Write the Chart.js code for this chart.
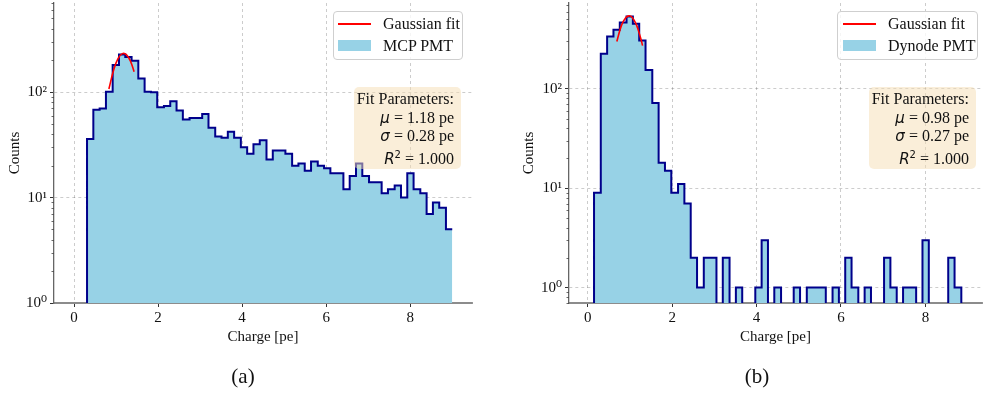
<!DOCTYPE html>
<html>
<head>
<meta charset="UTF-8">
<title>MCP PMT vs Dynode PMT charge spectra</title>
<script src="https://cdn.jsdelivr.net/npm/chart.js"></script>
<style>
  body { margin: 0; background: #fff; }
  #page { position: relative; width: 983px; height: 396px; overflow: hidden; font-family: 'Liberation Serif', 'DejaVu Serif', serif; color: #111; }
  canvas { position: absolute; top: 0; }
  .abs { position: absolute; }
  .legend { position: absolute; background: rgba(255,255,255,0.8); border: 1px solid #cfcfcf; border-radius: 4px; box-sizing: border-box; }
  .ltext { position: absolute; font-size: 16px; line-height: 18px; white-space: nowrap; }
  .fitbox { position: absolute; background: rgba(245,222,179,0.5); border-radius: 5px; box-sizing: border-box;
            text-align: right; font-size: 16px; line-height: 18.7px; padding: 3px 7px 0 0; white-space: nowrap; }
  .m { font-family: 'DejaVu Sans', sans-serif; font-style: italic; font-size: 15px; }
  .cap { position: absolute; font-size: 21px; width: 60px; text-align: center; }
</style>
</head>
<body>
<div id="page">
  <canvas id="chartA" width="491" height="396" style="left:0px;width:491px;height:396px"></canvas>
  <canvas id="chartB" width="492" height="396" style="left:491px;width:492px;height:396px"></canvas>

  <div class="legend" style="left:333px;top:11px;width:130px;height:49px"></div>
  <div class="abs" style="left:338px;top:23px;width:33px;height:2px;background:#f00"></div>
  <div class="ltext" style="left:383px;top:15px">Gaussian fit</div>
  <div class="abs" style="left:338px;top:40px;width:33px;height:11px;background:#97d2e6"></div>
  <div class="ltext" style="left:383px;top:37px">MCP PMT</div>

  <div class="fitbox" style="left:354px;top:87px;width:107px;height:82px">
    Fit Parameters:<br><span class="m">μ</span> = 1.18 pe<br><span class="m">σ</span> = 0.28 pe<br><span class="m">R</span><sup class="m" style="font-size:10px;font-style:normal">2</sup> = 1.000
  </div>

  <div class="legend" style="left:837px;top:11px;width:141px;height:49px"></div>
  <div class="abs" style="left:843px;top:23px;width:33px;height:2px;background:#f00"></div>
  <div class="ltext" style="left:888px;top:15px">Gaussian fit</div>
  <div class="abs" style="left:843px;top:40px;width:33px;height:11px;background:#97d2e6"></div>
  <div class="ltext" style="left:888px;top:37px">Dynode PMT</div>

  <div class="fitbox" style="left:869px;top:87px;width:107px;height:82px">
    Fit Parameters:<br><span class="m">μ</span> = 0.98 pe<br><span class="m">σ</span> = 0.27 pe<br><span class="m">R</span><sup class="m" style="font-size:10px;font-style:normal">2</sup> = 1.000
  </div>

  <div class="cap" style="left:213px;top:364px">(a)</div>
  <div class="cap" style="left:727px;top:364px">(b)</div>
</div>
<script>
// bin edges (pe), 59 bins from 0 to 9
const chargeBins = [0.00, 0.15, 0.31, 0.46, 0.61, 0.76, 0.92, 1.07, 1.22, 1.37,
  1.53, 1.68, 1.83, 1.98, 2.14, 2.29, 2.44, 2.59, 2.75, 2.90,
  3.05, 3.20, 3.36, 3.51, 3.66, 3.81, 3.97, 4.12, 4.27, 4.42,
  4.58, 4.73, 4.88, 5.03, 5.19, 5.34, 5.49, 5.64, 5.80, 5.95,
  6.10, 6.25, 6.41, 6.56, 6.71, 6.86, 7.02, 7.17, 7.32, 7.47,
  7.63, 7.78, 7.93, 8.08, 8.24, 8.39, 8.54, 8.69, 8.85, 9.00];

const mcpCounts = [0, 0, 36, 68, 70, 101, 181, 228, 216, 199,
  135, 101, 100, 72, 74, 82, 67, 55, 57, 57,
  62, 46, 38, 37, 42, 37, 30, 26, 32, 35,
  23, 28, 28, 26, 20, 21, 18, 22, 20, 19,
  17, 17, 12, 16, 21, 16, 14, 14, 11, 12,
  13, 10, 17, 12, 11, 7, 9, 8, 5];

const dynodeCounts = [0, 9, 225, 337, 393, 466, 535, 452, 306, 155,
  72, 18, 15, 9, 11, 7, 2, 1, 2, 2,
  0, 2, 0, 1, 0, 0, 1, 3, 0, 1,
  0, 0, 1, 0, 1, 1, 1, 0, 1, 0,
  2, 1, 0, 1, 0, 0, 2, 1, 0, 1,
  1, 0, 3, 0, 0, 0, 2, 1, 0];

// Gaussian fit curves
const mcpFitX = [0.83, 0.95, 1.05, 1.15, 1.25, 1.35, 1.43];
const mcpFitY = [107, 166, 209, 232, 226, 194, 156];
const dynodeFitX = [0.69, 0.80, 0.90, 0.98, 1.05, 1.15, 1.25, 1.30];
const dynodeFitY = [300, 435, 520, 543, 525, 445, 329, 272];

const xTicks = [0, 2, 4, 6, 8];
const yTicks = [1, 10, 100];
const yTickLabels = ['10\u2070', '10\u00b9', '10\u00b2'];

const FONT = "'Liberation Serif', 'DejaVu Serif', serif";
const FILL = '#97d2e6';

function stepPoints(counts) {
  // log axis cannot show 0: push empty bins far below the visible range
  const pts = counts.map((c, i) => ({ x: chargeBins[i], y: c > 0 ? c : 1e-3 }));
  const last = counts[counts.length - 1];
  pts.push({ x: chargeBins[counts.length], y: last > 0 ? last : 1e-3 });
  return pts;
}

const minorTicks = {
  id: 'minorTicks',
  afterDraw(chart) {
    const y = chart.scales.y, ctx = chart.ctx;
    ctx.save();
    ctx.strokeStyle = '#444';
    ctx.lineWidth = 0.8;
    for (const d of [0.1, 1, 10, 100]) {
      for (let m = 2; m <= 9; m++) {
        const v = m * d;
        if (v < y.min || v > y.max) continue;
        const py = Math.round(y.getPixelForValue(v)) + 0.5;
        ctx.beginPath();
        ctx.moveTo(y.right - 2.5, py);
        ctx.lineTo(y.right, py);
        ctx.stroke();
      }
    }
    ctx.restore();
  }
};

function makeChart(id, counts, fitX, fitY, cfg) {
  return new Chart(document.getElementById(id), {
    type: 'line',
    data: {
      datasets: [
        {
          label: 'Gaussian fit',
          data: fitX.map((x, i) => ({ x: x, y: fitY[i] })),
          borderColor: '#ff0000',
          borderWidth: 1.6,
          pointRadius: 0,
          tension: 0.4,
          fill: false,
          order: 0
        },
        {
          label: cfg.name,
          data: stepPoints(counts),
          stepped: 'before',
          borderColor: '#00008b',
          borderWidth: 2,
          backgroundColor: FILL,
          fill: 'start',
          pointRadius: 0,
          order: 1
        }
      ]
    },
    options: {
      responsive: false,
      animation: false,
      events: [],
      layout: { padding: { left: 0, top: 3, right: cfg.padRight, bottom: 48 } },
      plugins: { legend: { display: false }, tooltip: { enabled: false } },
      scales: {
        x: {
          type: 'linear',
          min: cfg.xMin,
          max: cfg.xMax,
          z: 1,
          afterBuildTicks: s => { s.ticks = xTicks.map(v => ({ value: v })); },
          afterFit: s => { s.height = 45; s.paddingLeft = 0; s.paddingRight = 0; },
          ticks: { font: { family: FONT, size: 15 }, color: '#111', padding: 2, maxRotation: 0, autoSkip: false },
          grid: { color: 'rgba(0,0,0,0.25)', lineWidth: 0.8, tickLength: 4, tickColor: '#333', tickWidth: 1 },
          border: { display: true, color: '#8c8c8c', width: 2, dash: [3, 3] },
          title: { display: true, text: 'Charge [pe]', font: { family: FONT, size: 15 }, color: '#111', padding: { top: 0, bottom: 2 } }
        },
        y: {
          type: 'logarithmic',
          min: cfg.yMin,
          max: cfg.yMax,
          z: 1,
          afterBuildTicks: s => { s.ticks = yTicks.map(v => ({ value: v, major: true })); },
          afterFit: s => { s.width = cfg.yWidth; s.paddingTop = 0; s.paddingBottom = 0; },
          ticks: {
            font: { family: FONT, size: 15 }, color: '#111', padding: 3, autoSkip: false,
            callback: v => { const i = yTicks.indexOf(v); return i >= 0 ? yTickLabels[i] : ''; }
          },
          grid: { color: 'rgba(0,0,0,0.25)', lineWidth: 0.8, tickLength: 4, tickColor: '#333', tickWidth: 1 },
          border: { display: true, color: '#666', width: 1.3, dash: [3, 3] },
          title: { display: true, text: 'Counts', font: { family: FONT, size: 15 }, color: '#111', padding: { top: cfg.titlePad, bottom: 0 } }
        }
      }
    },
    plugins: [minorTicks]
  });
}

makeChart('chartA', mcpCounts, mcpFitX, mcpFitY,
  { name: 'MCP PMT', xMin: -0.476, xMax: 9.47, yMin: 1, yMax: 701, yWidth: 54, padRight: 19, titlePad: 6 });
makeChart('chartB', dynodeCounts, dynodeFitX, dynodeFitY,
  { name: 'Dynode PMT', xMin: -0.443, xMax: 9.34, yMin: 0.735, yMax: 731, yWidth: 78, padRight: 1, titlePad: 29 });
</script>
</body>
</html>
